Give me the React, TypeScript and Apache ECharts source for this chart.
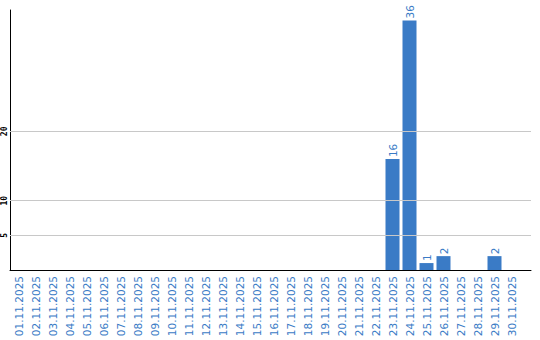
import React, { useEffect, useRef } from "react";
import * as echarts from "echarts";

const categories = [
  "01.11.2025", "02.11.2025", "03.11.2025", "04.11.2025", "05.11.2025",
  "06.11.2025", "07.11.2025", "08.11.2025", "09.11.2025", "10.11.2025",
  "11.11.2025", "12.11.2025", "13.11.2025", "14.11.2025", "15.11.2025",
  "16.11.2025", "17.11.2025", "18.11.2025", "19.11.2025", "20.11.2025",
  "21.11.2025", "22.11.2025", "23.11.2025", "24.11.2025", "25.11.2025",
  "26.11.2025", "27.11.2025", "28.11.2025", "29.11.2025", "30.11.2025",
];
const values = [
  0, 0, 0, 0, 0, 0, 0, 0, 0, 0,
  0, 0, 0, 0, 0, 0, 0, 0, 0, 0,
  0, 0, 16, 36, 1, 2, 0, 0, 2, 0,
];
const yTicks = [5, 10, 20];
const yMax = 37.5;

const BLUE = "#3a7bc6";

export default function App() {
  const ref = useRef<HTMLDivElement>(null);
  useEffect(() => {
    document.body.style.margin = "0";
    if (!ref.current) return;
    const chart = echarts.init(ref.current, null, { renderer: "svg" });
    chart.setOption({
      animation: false,
      grid: [
        { left: 10, top: 10, width: 521, height: 260 },
        { left: 10, top: 10, width: 510, height: 260 },
      ],
      xAxis: [
        {
          type: "value",
          gridIndex: 0,
          min: 0,
          max: 1,
          axisLine: { show: true, onZero: false, lineStyle: { color: "#000", width: 1 } },
          axisTick: { show: false },
          axisLabel: { show: false },
          splitLine: { show: false },
        },
        {
          type: "category",
          gridIndex: 1,
          data: categories,
          axisLine: { show: false },
          axisTick: { show: false },
          axisLabel: {
            interval: 0,
            rotate: 90,
            margin: 6,
            color: BLUE,
            fontSize: 10.5,
            fontFamily: "DejaVu Sans",
          },
        },
      ],
      yAxis: [
        {
          type: "value",
          gridIndex: 0,
          min: 0,
          max: yMax,
          interval: 5,
          axisLine: { show: true, lineStyle: { color: "#000", width: 1 } },
          axisTick: { show: false },
          splitLine: { show: false },
          axisLabel: {
            rotate: 90,
            margin: 2,
            color: "#000",
            fontSize: 8,
            fontWeight: "bold",
            fontFamily: "DejaVu Sans Mono",
            formatter: (v: number) => (yTicks.includes(v) ? String(v) : ""),
          },
        },
        {
          type: "value",
          gridIndex: 1,
          min: 0,
          max: yMax,
          show: false,
          splitLine: { show: false },
        },
      ],
      series: [
        {
          type: "line",
          xAxisIndex: 0,
          yAxisIndex: 0,
          data: [],
          silent: true,
          markLine: {
            silent: true,
            symbol: "none",
            label: { show: false },
            lineStyle: { color: "#c8c8c8", type: "solid", width: 1 },
            data: yTicks.map((t) => ({ yAxis: t })),
          },
        },
        {
          type: "bar",
          xAxisIndex: 1,
          yAxisIndex: 1,
          data: values.map((v) => (v === 0 ? null : v)),
          barWidth: 14,
          itemStyle: { color: BLUE },
          label: {
            show: true,
            position: "top",
            rotate: 90,
            align: "left",
            verticalAlign: "middle",
            distance: 2,
            color: BLUE,
            fontSize: 10.5,
            fontFamily: "DejaVu Sans",
          },
        },
      ],
    });
    return () => chart.dispose();
  }, []);
  return <div ref={ref} style={{ width: 540, height: 340 }} />;
}
